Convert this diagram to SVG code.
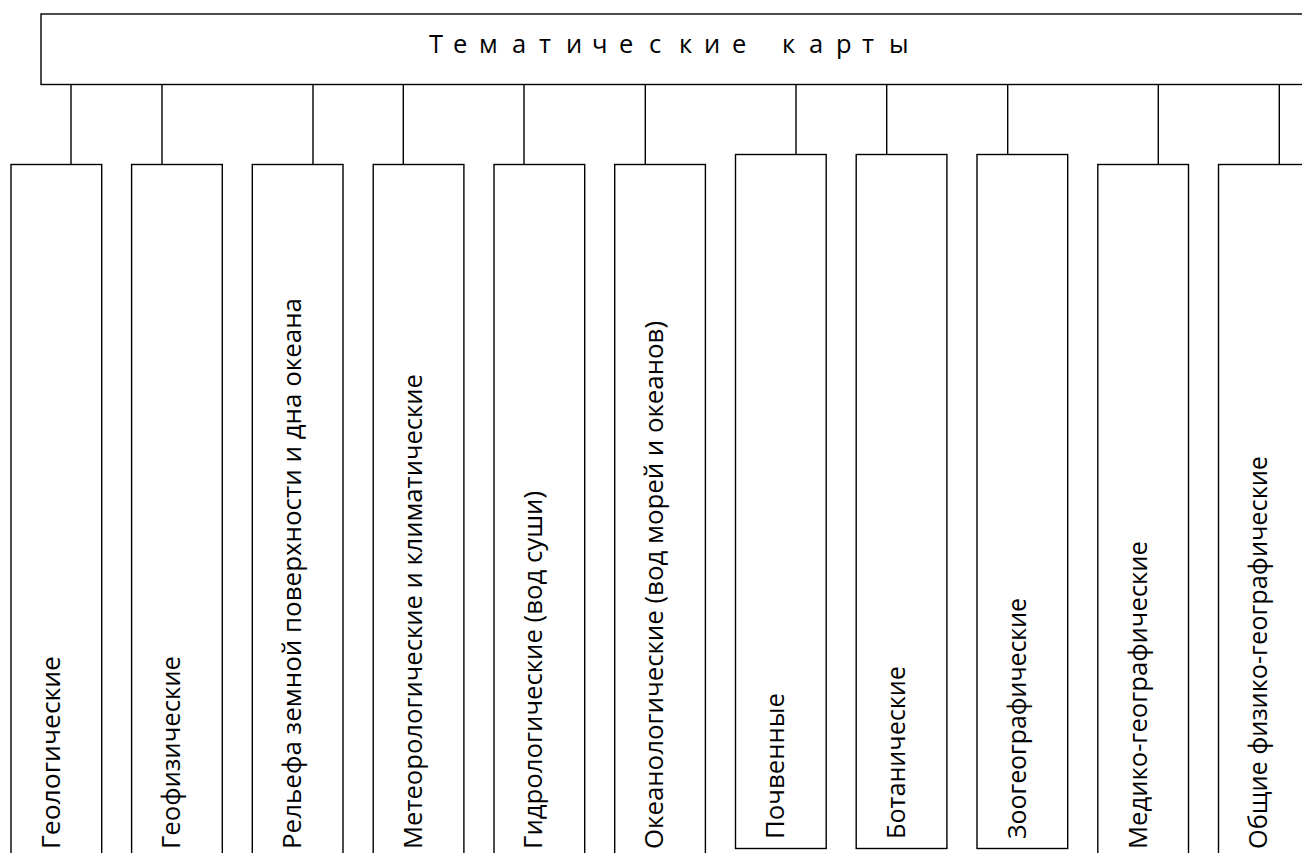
<svg xmlns="http://www.w3.org/2000/svg" width="1302" height="853" viewBox="0 0 1302 853">
  <style>
    .box { fill: #ffffff; stroke: #000000; stroke-width: 1.4; }
    .wire { stroke: #000000; stroke-width: 1.4; fill: none; }
    .lbl { font-family: "Open Sans", "Liberation Sans", sans-serif; font-size: 25.5px; fill: #000000; }
  </style>
  <rect x="0" y="0" width="1302" height="853" fill="#ffffff"/>

  <!-- root node: the strip runs past the right edge -->
  <g id="root">
    <rect class="box" x="41" y="14" width="1280" height="70.5"/>
    <text class="lbl" y="53.3" x="429 453 479 512 539 566 592 619 649 679 704 732 760 782 809 836 862 889">Тематические карты</text>
  </g>

  <!-- connectors from the root strip down to each category -->
  <g id="connectors">
    <path class="wire" d="M71 84.5V164.5 M162 84.5V164.5 M313 84.5V164.5 M403.3 84.5V164.5 M524 84.5V164.5 M645.3 84.5V164.5 M796 84.5V154.5 M886.7 84.5V154.5 M1007.7 84.5V154.5 M1158.3 84.5V164.5 M1279.3 84.5V164.5"/>
  </g>

  <g id="n1">
    <rect class="box" x="11" y="164.5" width="90.7" height="720"/>
    <text class="lbl" transform="translate(60,849) rotate(-90)" textLength="193" lengthAdjust="spacingAndGlyphs">Геологические</text>
  </g>
  <g id="n2">
    <rect class="box" x="131.6" y="164.5" width="90.7" height="720"/>
    <text class="lbl" transform="translate(180.3,849) rotate(-90)" textLength="193" lengthAdjust="spacingAndGlyphs">Геофизические</text>
  </g>
  <g id="n3">
    <rect class="box" x="252.3" y="164.5" width="90.7" height="720"/>
    <text class="lbl" transform="translate(300.5,849) rotate(-90)" textLength="551" lengthAdjust="spacingAndGlyphs">Рельефа земной поверхности и дна океана</text>
  </g>
  <g id="n4">
    <rect class="box" x="373.2" y="164.5" width="90.7" height="720"/>
    <text class="lbl" transform="translate(421.7,849) rotate(-90)" textLength="475" lengthAdjust="spacingAndGlyphs">Метеорологические и климатические</text>
  </g>
  <g id="n5">
    <rect class="box" x="494" y="164.5" width="90.7" height="720"/>
    <text class="lbl" transform="translate(542,849) rotate(-90)" textLength="358" lengthAdjust="spacingAndGlyphs">Гидрологические (вод суши)</text>
  </g>
  <g id="n6">
    <rect class="box" x="614.7" y="164.5" width="90.7" height="720"/>
    <text class="lbl" transform="translate(663,849) rotate(-90)" textLength="528" lengthAdjust="spacingAndGlyphs">Океанологические (вод морей и океанов)</text>
  </g>
  <g id="n7">
    <rect class="box" x="735.5" y="154.5" width="90.7" height="694"/>
    <text class="lbl" transform="translate(783.5,839) rotate(-90)" textLength="146" lengthAdjust="spacingAndGlyphs">Почвенные</text>
  </g>
  <g id="n8">
    <rect class="box" x="856.2" y="154.5" width="90.7" height="694"/>
    <text class="lbl" transform="translate(904.5,839) rotate(-90)" textLength="173" lengthAdjust="spacingAndGlyphs">Ботанические</text>
  </g>
  <g id="n9">
    <rect class="box" x="977" y="154.5" width="90.7" height="694"/>
    <text class="lbl" transform="translate(1026,839) rotate(-90)" textLength="241" lengthAdjust="spacingAndGlyphs">Зоогеографические</text>
  </g>
  <g id="n10">
    <rect class="box" x="1097.8" y="164.5" width="90.7" height="720"/>
    <text class="lbl" transform="translate(1146.5,849) rotate(-90)" textLength="308" lengthAdjust="spacingAndGlyphs">Медико-географические</text>
  </g>
  <g id="n11">
    <rect class="box" x="1218.5" y="164.5" width="90.7" height="720"/>
    <text class="lbl" transform="translate(1266.7,849) rotate(-90)" textLength="393" lengthAdjust="spacingAndGlyphs">Общие физико-географические</text>
  </g>
</svg>
